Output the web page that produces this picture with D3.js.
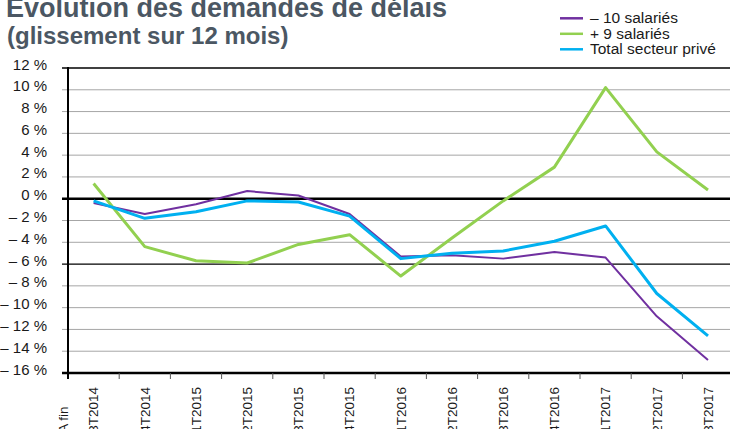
<!DOCTYPE html>
<html>
<head>
<meta charset="utf-8">
<script src="https://cdn.jsdelivr.net/npm/d3@7"></script>
<style>
    html, body { margin: 0; padding: 0; background: #fff; }
    svg { display: block; font-family: "Liberation Sans", Arial, sans-serif; }
</style>
</head>
<body>
<div id="chart"></div>
<script>
//VARIABLES
let categories = ['A fin 3T2014', '4T2014', '1T2015', '2T2015', '3T2015', '4T2015', '1T2016', '2T2016', '3T2016', '4T2016', '1T2017', '2T2017', '3T2017'];
let moins10 = [-0.4, -1.4, -0.5, 0.7, 0.3, -1.4, -5.3, -5.2, -5.5, -4.9, -5.4, -10.8, -14.8];
let plus9 = [1.4, -4.4, -5.7, -5.9, -4.2, -3.3, -7.1, -3.6, -0.2, 2.9, 10.2, 4.3, 0.8];
let total = [-0.2, -1.8, -1.2, -0.2, -0.3, -1.6, -5.5, -5.0, -4.8, -3.9, -2.5, -8.7, -12.6];
let yTicks = [12, 10, 8, 6, 4, 2, 0, -2, -4, -6, -8, -10, -12, -14, -16];
let seriesNames = ['\u2013 10 salariés', '+ 9 salariés', 'Total secteur privé'];
let colors = ['#7030a0', '#92d050', '#00b0f0'];

init();

function init() {
    let width = 730, height = 429;
    let margin = {top: 68, left: 68, bottom: 373, right: 733.6};

    let svg = d3.select('#chart').append('svg')
        .attr('width', width)
        .attr('height', height);

    //Title (top of first line is cut like in the original)
    svg.append('text')
        .attr('x', 6).attr('y', 17)
        .attr('font-size', 27).attr('font-weight', 'bold')
        .attr('fill', '#4b5763')
        .text('Evolution des demandes de délais');
    svg.append('text')
        .attr('x', 7).attr('y', 44)
        .attr('font-size', 24).attr('font-weight', 'bold')
        .attr('fill', '#4b5763')
        .text('(glissement sur 12 mois)');

    //Scales
    let x = d3.scaleBand()
        .domain(categories)
        .range([margin.left, margin.right]);
    let y = d3.scaleLinear()
        .domain([-16, 12])
        .range([margin.bottom, margin.top]);

    //Grid + y labels
    let grid = svg.append('g');
    yTicks.forEach(function(t) {
        let stroke = '#a6a6a6', sw = 1;
        if (t == 0 || t == -16) { stroke = '#000'; sw = 2.5; }
        else if (t == 12) { stroke = '#000'; sw = 1.5; }
        else if (t == -6) { stroke = '#000'; sw = 1.2; }
        grid.append('line')
            .attr('x1', 62).attr('x2', margin.right)
            .attr('y1', y(t)).attr('y2', y(t))
            .attr('stroke', stroke).attr('stroke-width', sw);
        grid.append('text')
            .attr('x', 47).attr('y', y(t) + 1.5)
            .attr('text-anchor', 'end')
            .attr('font-size', 15)
            .attr('fill', '#1a1a1a')
            .text((t < 0 ? '\u2013 ' + (-t) : t) + ' %');
    });

    //Y axis line
    svg.append('line')
        .attr('x1', margin.left).attr('x2', margin.left)
        .attr('y1', margin.top - 1).attr('y2', margin.bottom + 6)
        .attr('stroke', '#000').attr('stroke-width', 2);

    //X ticks
    categories.forEach(function(c) {
        let x0 = x(c) + x.bandwidth();
        svg.append('line')
            .attr('x1', x0).attr('x2', x0)
            .attr('y1', margin.bottom).attr('y2', margin.bottom + 6)
            .attr('stroke', '#555').attr('stroke-width', 1);
    });

    //X labels (rotated, slightly cut at the bottom like the original)
    let labels = svg.append('g').attr('font-size', 13.5).attr('fill', '#1a1a1a');
    categories.forEach(function(c) {
        let cx = x(c) + x.bandwidth() / 2;
        let parts = c.split('A fin ');
        let main = parts[parts.length - 1];
        let t = labels.append('text')
            .attr('transform', 'translate(' + cx + ',387) rotate(-90)')
            .attr('text-anchor', 'end')
            .attr('dy', '0.35em')
            .text(main);
        if (parts.length > 1) {
            let w = t.node().getComputedTextLength();
            labels.append('text')
                .attr('transform', 'translate(' + (cx - 30) + ',' + (387 + w) + ') rotate(-90)')
                .attr('text-anchor', 'start')
                .attr('dy', '0.35em')
                .text('A fin');
        }
    });

    //Lines
    let line = d3.line()
        .x(function(d, i) { return x(categories[i]) + x.bandwidth() / 2; })
        .y(function(d) { return y(d); });

    let series = [moins10, plus9, total];
    let widths = [2, 3, 3];
    series.forEach(function(s, i) {
        svg.append('path')
            .attr('d', line(s))
            .attr('fill', 'none')
            .attr('stroke', colors[i])
            .attr('stroke-width', widths[i])
            .attr('stroke-linejoin', 'round');
    });

    //Legend
    let legend = svg.append('g');
    seriesNames.forEach(function(n, i) {
        let ly = 18.3 + i * 15.5;
        legend.append('line')
            .attr('x1', 560).attr('x2', 583)
            .attr('y1', ly).attr('y2', ly)
            .attr('stroke', colors[i]).attr('stroke-width', 2.5);
        legend.append('text')
            .attr('x', 590).attr('y', ly + 5)
            .attr('font-size', 15.5)
            .attr('fill', '#1a1a1a')
            .text(n);
    });
}
</script>
</body>
</html>
